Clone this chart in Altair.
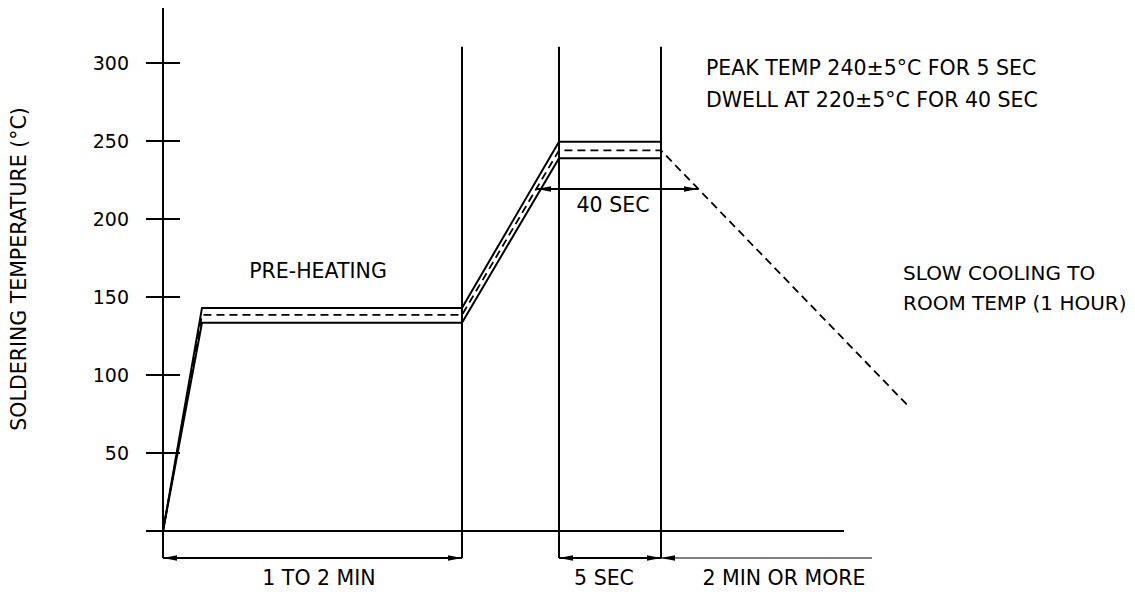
import altair as alt
import pandas as pd

# ---------------- data (x in schematic time units, y in °C) ----------------
tick_values = [50, 100, 150, 200, 250, 300]

profile_x = [0, 39, 299, 396, 498]
upper_t = [0, 143, 143, 249.5, 249.5]
lower_t = [0, 133.5, 133.5, 239, 239]
nominal_x = [0, 39, 299, 396, 498, 747]
nominal_t = [0, 138.5, 138.5, 244, 244, 79]

phase_x = [299, 396, 498]          # end of pre-heat, start / end of peak
axis_x = 0
axis_top = 336
phase_top = 310.5
dim_level = -17.3
baseline_end = 681
tick_half = 17
dim3_end = 709
dwell_t = 219.2
dwell_x = [374, 535]

title_y = "SOLDERING TEMPERATURE (°C)"
notes_top = ["PEAK TEMP 240±5°C FOR 5 SEC", "DWELL AT 220±5°C FOR 40 SEC"]
notes_top_x = [543, 543]
notes_top_t = [297.1, 276.6]
notes_right = ["SLOW COOLING TO", "ROOM TEMP (1 HOUR)"]
notes_right_x = [740, 740]
notes_right_t = [165.4, 146.2]
notes_center = ["PRE-HEATING", "40 SEC", "1 TO 2 MIN", "5 SEC", "2 MIN OR MORE"]
notes_center_x = [155, 450, 156, 441, 621]
notes_center_t = [166.7, 209, -30.1, -30.1, -30.1]

# ---------------- scales ----------------
XS = alt.Scale(domain=[-155, 964], nice=False, zero=False)
YS = alt.Scale(domain=[-39.10, 335.26], nice=False, zero=False)
FONT = "DejaVu Sans"
FS_TICK = 19
FS = 20.5


def X(f="x"):
    return alt.X(f"{f}:Q", scale=XS, axis=None)


def Y(f="y"):
    return alt.Y(f"{f}:Q", scale=YS, axis=None)


# solid construction lines
seg = []
seg.append(dict(x=axis_x, x2=axis_x, y=dim_level, y2=axis_top))          # y axis
seg.append(dict(x=-tick_half, x2=baseline_end, y=0, y2=0))               # baseline
for px in phase_x:
    seg.append(dict(x=px, x2=px, y=dim_level, y2=phase_top))
for t in tick_values:
    seg.append(dict(x=-tick_half, x2=tick_half, y=t, y2=t))
seg.append(dict(x=axis_x, x2=phase_x[0], y=dim_level, y2=dim_level))
seg.append(dict(x=phase_x[1], x2=phase_x[2], y=dim_level, y2=dim_level))
seg.append(dict(x=dwell_x[0], x2=dwell_x[1], y=dwell_t, y2=dwell_t))
seg_df = pd.DataFrame(seg)

thin_df = pd.DataFrame([dict(x=phase_x[2], x2=dim3_end, y=dim_level, y2=dim_level)])

rules = alt.Chart(seg_df).mark_rule(color="black", strokeWidth=2).encode(
    x=X(), x2="x2:Q", y=Y(), y2="y2:Q")
thin = alt.Chart(thin_df).mark_rule(color="black", strokeWidth=1.2).encode(
    x=X(), x2="x2:Q", y=Y(), y2="y2:Q")

up_df = pd.DataFrame({"x": profile_x, "y": upper_t, "o": range(len(profile_x))})
lo_df = pd.DataFrame({"x": profile_x, "y": lower_t, "o": range(len(profile_x))})
nom_df = pd.DataFrame({"x": nominal_x, "y": nominal_t, "o": range(len(nominal_x))})

up = alt.Chart(up_df).mark_line(color="black", strokeWidth=2).encode(
    x=X(), y=Y(), order="o:Q")
lo = alt.Chart(lo_df).mark_line(color="black", strokeWidth=2).encode(
    x=X(), y=Y(), order="o:Q")
nom = alt.Chart(nom_df).mark_line(color="black", strokeWidth=1.8, strokeDash=[8, 5]).encode(
    x=X(), y=Y(), order="o:Q")

# arrowheads
left_arrows = pd.DataFrame({"x": [axis_x, phase_x[1], phase_x[2], dwell_x[0]],
                            "y": [dim_level, dim_level, dim_level, dwell_t]})
right_arrows = pd.DataFrame({"x": [phase_x[0], phase_x[2], dwell_x[1]],
                             "y": [dim_level, dim_level, dwell_t]})
la = alt.Chart(left_arrows).mark_point(
    shape="M0,0L2,-0.4L2,0.4Z", filled=True, size=196, color="black",
    opacity=1, strokeWidth=0).encode(x=X(), y=Y())
ra = alt.Chart(right_arrows).mark_point(
    shape="M0,0L-2,-0.4L-2,0.4Z", filled=True, size=196, color="black",
    opacity=1, strokeWidth=0).encode(x=X(), y=Y())

# texts
tick_df = pd.DataFrame({"x": [-34] * len(tick_values), "y": tick_values,
                        "t": [str(v) for v in tick_values]})
tick_txt = alt.Chart(tick_df).mark_text(
    align="right", baseline="middle", font=FONT, fontSize=FS_TICK, color="black", dy=1
).encode(x=X(), y=Y(), text="t:N")

nt_df = pd.DataFrame({"x": notes_top_x, "y": notes_top_t, "t": notes_top})
nt = alt.Chart(nt_df).mark_text(
    align="left", baseline="middle", font=FONT, fontSize=FS, color="black", dy=1
).encode(x=X(), y=Y(), text="t:N")

nr_df = pd.DataFrame({"x": notes_right_x, "y": notes_right_t, "t": notes_right})
nr = alt.Chart(nr_df).mark_text(
    align="left", baseline="middle", font=FONT, fontSize=20, color="black", dy=1
).encode(x=X(), y=Y(), text="t:N")

nc_df = pd.DataFrame({"x": notes_center_x, "y": notes_center_t, "t": notes_center})
nc = alt.Chart(nc_df).mark_text(
    align="center", baseline="middle", font=FONT, fontSize=FS, color="black", dy=1
).encode(x=X(), y=Y(), text="t:N")

yt_df = pd.DataFrame({"x": [-143], "y": [168], "t": [title_y]})
yt = alt.Chart(yt_df).mark_text(
    align="center", baseline="middle", font=FONT, fontSize=FS, color="black", angle=270
).encode(x=X(), y=Y(), text="t:N")

chart = alt.layer(rules, thin, up, lo, nom, la, ra, tick_txt, nt, nr, nc, yt).properties(
    width=1119, height=584,
    autosize=alt.AutoSizeParams(type="none"), padding=0, background="white"
).configure_view(stroke=None)

chart.save("out.html", embed_options={"renderer": "svg", "actions": False})
